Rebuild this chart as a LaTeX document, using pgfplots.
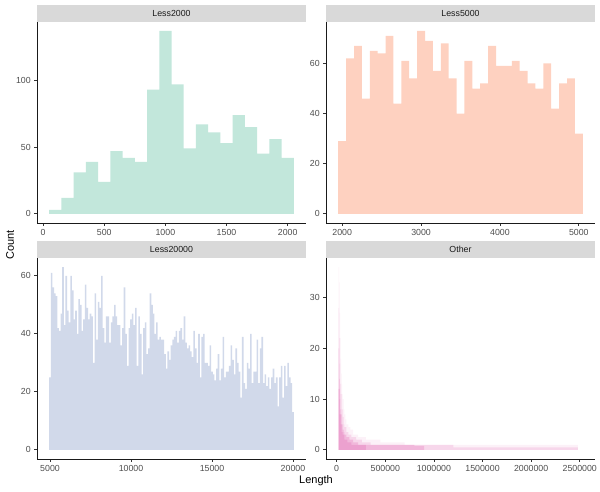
\documentclass[border=0pt]{standalone}
\usepackage{pgfplots}
\pgfplotsset{compat=1.18}
\usepackage{fontspec}
\setmainfont{Liberation Sans}
\definecolor{gAxis}{HTML}{1A1A1A}
\definecolor{gTick}{HTML}{333333}
\definecolor{gLab}{HTML}{4D4D4D}
\definecolor{gStrip}{HTML}{D9D9D9}
\definecolor{cA}{HTML}{66C2A5}
\definecolor{cB}{HTML}{FC8D62}
\definecolor{cC}{HTML}{8DA0CB}
\definecolor{cD}{HTML}{E78AC3}
\pgfplotsset{
  panel/.style={
    scale only axis, width=269pt, height=201.3pt,
    axis lines=left, axis line style={-, draw=gAxis, line width=1pt},
    tick align=outside, major tick length=2.75pt,
    tick style={draw=gTick, line width=0.8pt},
    ticklabel style={font=\fontsize{8.8}{10}\selectfont, text=gLab},
    scaled ticks=false,
    clip=false,
  },
}
\newcommand{\strip}[1]{%
  \fill[gStrip] (rel axis cs:0,1) rectangle ([yshift=16.7pt]rel axis cs:1,1);
  \node[font=\fontsize{8.8}{10}\selectfont, text=gAxis] at ([yshift=8.35pt]rel axis cs:0.5,1) {#1};
}
\pgfplotstableread{
x y
100 3
200 12
300 31
400 39
500 24
600 47
700 42
800 39
900 93
1000 137
1100 97
1200 49
1300 67
1400 61
1500 53
1600 74
1700 65
1800 45
1900 56
2000 42
}\tblA
\pgfplotstableread{
x y
2000 29
2100 62
2200 67
2300 46
2400 65
2500 64
2600 71
2700 44
2800 61
2900 54
3000 73
3100 69
3200 57
3300 68
3400 54
3500 40
3600 61
3700 50
3800 52
3900 67
4000 59
4100 59
4200 61
4300 57
4400 52
4500 50
4600 60
4700 42
4800 52
4900 54
5000 32
}\tblB
\pgfplotstableread{
x y
5000 25
5100 61
5200 56
5300 54
5400 53
5500 42
5600 41
5700 47
5800 63
5900 43
6000 60
6100 48
6200 44
6300 60
6400 55
6500 45
6600 48
6700 40
6800 52
6900 50
7000 41
7100 45
7200 57
7300 49
7400 45
7500 47
7600 46
7700 30
7800 54
7900 38
8000 51
8100 49
8200 60
8300 42
8400 37
8500 46
8600 46
8700 37
8800 44
8900 46
9000 50
9100 46
9200 43
9300 43
9400 36
9500 42
9600 56
9700 40
9800 29
9900 42
10000 45
10100 47
10200 43
10300 49
10400 29
10500 46
10600 40
10700 26
10800 42
10900 44
11000 33
11100 35
11200 54
11300 50
11400 47
11500 40
11600 44
11700 38
11800 39
11900 38
12000 38
12100 33
12200 28
12300 34
12400 31
12500 36
12600 38
12700 39
12800 41
12900 37
13000 41
13100 42
13200 38
13300 46
13400 37
13500 35
13600 36
13700 34
13800 32
13900 41
14000 35
14100 30
14200 40
14300 25
14400 39
14500 40
14600 30
14700 30
14800 29
14900 36
15000 27
15100 26
15200 24
15300 28
15400 33
15500 24
15600 28
15700 39
15800 25
15900 27
16000 27
16100 29
16200 36
16300 31
16400 26
16500 35
16600 30
16700 27
16800 18
16900 39
17000 23
17100 21
17200 30
17300 28
17400 40
17500 23
17600 27
17700 27
17800 38
17900 23
18000 35
18100 39
18200 23
18300 26
18400 22
18500 25
18600 21
18700 25
18800 28
18900 23
19000 25
19100 15
19200 25
19300 29
19400 18
19500 29
19600 22
19700 30
19800 25
19900 23
20000 13
}\tblC
\begin{document}
\begin{tikzpicture}
\useasboundingbox (0pt,0pt) rectangle (600pt,-491pt);
% top-left
\begin{axis}[panel, at={(37pt,-223pt)}, anchor=south west,
  xmin=-50, xmax=2150, ymin=-6.85, ymax=143.85,
  xtick={0,500,1000,1500,2000}, xticklabels={0,500,1000,1500,2000},
  ytick={0,50,100}, yticklabels={0,50,100}]
\addplot[ybar, bar width=100, fill=cA, fill opacity=0.4, draw=none] table[x=x,y=y] {\tblA};
\strip{Less2000}
\end{axis}
% top-right
\begin{axis}[panel, at={(326pt,-223pt)}, anchor=south west,
  xmin=1795, xmax=5205, ymin=-3.65, ymax=76.65,
  xtick={2000,3000,4000,5000}, xticklabels={2000,3000,4000,5000},
  ytick={0,20,40,60}, yticklabels={0,20,40,60}]
\addplot[ybar, bar width=100, fill=cB, fill opacity=0.4, draw=none] table[x=x,y=y] {\tblB};
\strip{Less5000}
\end{axis}
% bottom-left
\begin{axis}[panel, at={(37pt,-459pt)}, anchor=south west, height=201pt,
  xmin=4195, xmax=20805, ymin=-3.15, ymax=66.15,
  xtick={5000,10000,15000,20000}, xticklabels={5000,10000,15000,20000},
  ytick={0,20,40,60}, yticklabels={0,20,40,60}]
\addplot[ybar, bar width=100, fill=cC, fill opacity=0.4, draw=none] table[x=x,y=y] {\tblC};
\strip{Less20000}
\end{axis}
% bottom-right
\begin{axis}[panel, at={(326pt,-459pt)}, anchor=south west, height=201pt,
  xmin=-110000, xmax=2657000, ymin=-1.8, ymax=37.8,
  xtick={0,500000,1000000,1500000,2000000,2500000},
  xticklabels={0,500000,1000000,1500000,2000000,2500000},
  ytick={0,10,20,30}, yticklabels={0,10,20,30}]
\addplot[const plot mark left, fill=cD, fill opacity=0.12, draw=none] coordinates {
(20000,36) (25000,33) (30000,27) (35000,22) (40000,18) (45000,15) (50000,13) (55000,11)
(60000,10) (70000,8) (80000,7) (90000,6) (100000,5) (120000,4.5) (140000,4) (170000,3)
(220000,2.5) (300000,2) (450000,1.5) (700000,1) (2480000,1)} \closedcycle;
\addplot[const plot mark left, fill=cD, fill opacity=0.25, draw=none] coordinates {
(20000,28) (25000,22) (30000,17) (35000,13) (40000,11) (50000,8) (60000,6.5) (70000,5)
(80000,4.5) (100000,3.5) (120000,3) (150000,2.5) (200000,2) (260000,1.5) (350000,1)
(1000000,1) (1200000,0.5) (2480000,0.5)} \closedcycle;
\addplot[const plot mark left, fill=cD, fill opacity=0.4, draw=none] coordinates {
(20000,20) (25000,14) (30000,10) (35000,8) (40000,7) (50000,5) (60000,4) (70000,3.5)
(80000,3) (100000,2.5) (130000,2) (170000,1.5) (220000,1) (600000,1) (800000,0.8) (900000,0.8)} \closedcycle;
\addplot[const plot mark left, fill=cD, fill opacity=0.5, draw=none] coordinates {
(20000,12) (30000,7) (40000,5) (50000,3.5) (60000,3) (80000,2) (110000,1.5) (150000,1) (300000,1)} \closedcycle;
\strip{Other}
\end{axis}
\node[rotate=90, font=\fontsize{11}{13}\selectfont] at (10pt,-245pt) {Count};
\node[font=\fontsize{11}{13}\selectfont] at (316pt,-481pt) {Length};
\end{tikzpicture}
\end{document}
